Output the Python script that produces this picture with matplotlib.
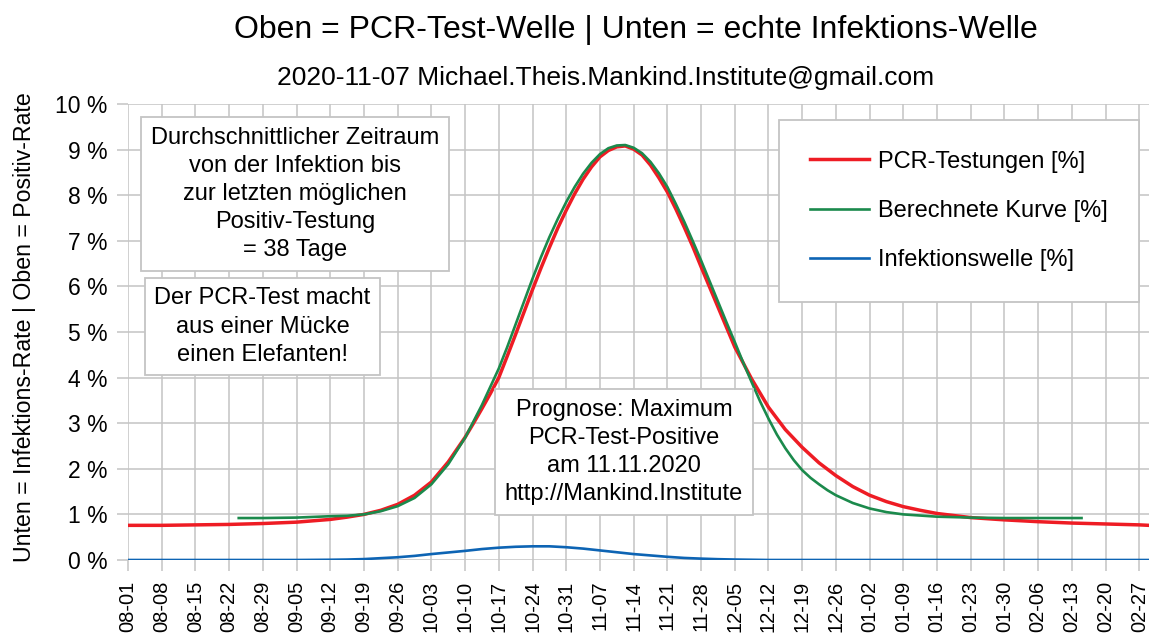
import datetime as dt
import matplotlib
matplotlib.use("Agg")
import matplotlib.pyplot as plt
import matplotlib.dates as mdates

plt.rcParams['font.family'] = ['Liberation Sans', 'DejaVu Sans']

start = dt.datetime(2020, 8, 1)

# red curve: PCR-Testungen [%] (day offset from 2020-08-01, value)
red_days = [0, 7, 14, 21, 28, 35, 42, 45.5, 49, 52.5, 56, 59.5, 63, 66.5, 70, 71.75, 73.5,
            75.25, 77, 78.75, 80.5, 82.25, 84, 85.75, 87.5, 89.25, 91, 92.75, 94.5, 96.25,
            98, 99.75, 101.5, 103.25, 105, 106.75, 108.5, 110.25, 112, 113.75, 115.5,
            117.25, 119, 120.75, 122.5, 124.25, 126, 129.5, 133, 136.5, 140, 143.5, 147,
            150.5, 154, 157.5, 161, 164.5, 168, 175, 182, 189, 196, 203, 210, 212]
red_vals = [0.76, 0.76, 0.77, 0.78, 0.80, 0.83, 0.89, 0.94, 1.00, 1.09, 1.22, 1.42, 1.71,
            2.15, 2.69, 3.00, 3.32, 3.65, 4.00, 4.47, 4.95, 5.44, 5.93, 6.40, 6.85, 7.28,
            7.67, 8.03, 8.35, 8.62, 8.84, 8.98, 9.06, 9.08, 9.01, 8.88, 8.66, 8.38, 8.07,
            7.70, 7.30, 6.88, 6.43, 5.99, 5.55, 5.11, 4.67, 3.97, 3.35, 2.86, 2.47, 2.13,
            1.85, 1.61, 1.42, 1.28, 1.17, 1.09, 1.02, 0.93, 0.88, 0.84, 0.81, 0.79, 0.77,
            0.76]

# green curve: Berechnete Kurve [%]
green_days = [23, 28, 35, 42, 45.5, 49, 52.5, 56, 59.5, 63, 66.5, 70, 73.5, 77, 78.75,
              80.5, 82.25, 84, 85.75, 87.5, 89.25, 91, 92.75, 94.5, 96.25, 98, 99.75,
              101.5, 103.25, 105, 106.75, 108.5, 110.25, 112, 113.75, 115.5, 117.25, 119,
              120.75, 122.5, 124.25, 126, 127.75, 129.5, 131.25, 133, 134.75, 136.5,
              138.25, 140, 141.75, 143.5, 145.25, 147, 150.5, 154, 157.5, 161, 168, 175,
              182, 189, 198]
green_vals = [0.92, 0.92, 0.93, 0.96, 0.97, 1.00, 1.07, 1.18, 1.36, 1.66, 2.10, 2.68,
              3.40, 4.20, 4.67, 5.17, 5.67, 6.17, 6.64, 7.08, 7.48, 7.85, 8.18, 8.47,
              8.71, 8.90, 9.03, 9.09, 9.10, 9.04, 8.92, 8.73, 8.48, 8.18, 7.81, 7.42,
              7.00, 6.57, 6.12, 5.67, 5.22, 4.78, 4.33, 3.90, 3.48, 3.10, 2.75, 2.45,
              2.19, 1.97, 1.80, 1.66, 1.53, 1.42, 1.25, 1.13, 1.05, 1.00, 0.95, 0.93,
              0.92, 0.92, 0.92]

# blue curve: Infektionswelle [%]
blue_days = [0, 35, 42, 45.5, 49, 52.5, 56, 59.5, 63, 66.5, 70, 73.5, 77, 80.5, 84, 87.5,
             91, 94.5, 98, 101.5, 105, 108.5, 112, 115.5, 119, 122.5, 126, 133, 212]
blue_vals = [0, 0, 0.005, 0.01, 0.02, 0.04, 0.06, 0.09, 0.13, 0.165, 0.20, 0.24, 0.27,
             0.29, 0.30, 0.30, 0.28, 0.25, 0.21, 0.17, 0.13, 0.10, 0.07, 0.045, 0.03,
             0.018, 0.01, 0, 0]

labels = ['PCR-Testungen [%]', 'Berechnete Kurve [%]', 'Infektionswelle [%]']
colors = ['#ee1c24', '#1b8a4c', '#0d64b4']


def to_dates(days):
    return [start + dt.timedelta(days=d) for d in days]


fig = plt.figure(figsize=(11.56, 6.36), dpi=100)
ax = fig.add_axes([0.1107, 0.1195, 0.8832, 0.717])

grid_col = '#c4c4c4'
ax.plot(to_dates(red_days), red_vals, color=colors[0], lw=2.5, label=labels[0], zorder=3)
ax.plot(to_dates(green_days), green_vals, color=colors[1], lw=1.9, label=labels[1], zorder=4)
ax.plot(to_dates(blue_days), blue_vals, color=colors[2], lw=1.9, label=labels[2], zorder=3)

ax.set_xlim(start, start + dt.timedelta(days=212))
ax.set_ylim(0, 10)
ax.set_yticks(range(0, 11))
ax.set_yticklabels([f"{v} %" for v in range(0, 11)], fontsize=16.5)

xticks = [start + dt.timedelta(days=7 * i) for i in range(31)]
ax.set_xticks(xticks)
ax.xaxis.set_major_formatter(mdates.DateFormatter('%m-%d'))
plt.setp(ax.get_xticklabels(), rotation=90, fontsize=14.5)

ax.grid(True, color=grid_col, lw=1.1)
ax.set_axisbelow(True)
for s in ax.spines.values():
    s.set_visible(False)
ax.tick_params(axis='both', color=grid_col, width=1.1, length=8, pad=7)

fig.text(0.021, 0.486, "Unten = Infektions-Rate | Oben = Positiv-Rate", rotation=90,
         ha='center', va='center', fontsize=16.7)

fig.text(0.55, 0.953, "Oben = PCR-Test-Welle | Unten = echte Infektions-Welle",
         ha='center', va='center', fontsize=23)
fig.text(0.524, 0.877, "2020-11-07 Michael.Theis.Mankind.Institute@gmail.com",
         ha='center', va='center', fontsize=19)

box = dict(boxstyle='square,pad=0.4', facecolor='white', edgecolor='#c4c4c4', lw=1.3)
ax.text(0.1636, 0.8026, "Durchschnittlicher Zeitraum\nvon der Infektion bis\n"
        "zur letzten möglichen\nPositiv-Testung\n= 38 Tage",
        transform=ax.transAxes, ha='center', va='center', fontsize=17,
        linespacing=1.36, bbox=box, zorder=5)
ax.text(0.1317, 0.512, "Der PCR-Test macht\naus einer Mücke\neinen Elefanten!",
        transform=ax.transAxes, ha='center', va='center', fontsize=17,
        linespacing=1.36, bbox=box, zorder=5)
ax.text(0.4858, 0.2368, "Prognose: Maximum\nPCR-Test-Positive\nam 11.11.2020\n"
        "http://Mankind.Institute",
        transform=ax.transAxes, ha='center', va='center', fontsize=17,
        linespacing=1.36, bbox=box, zorder=5)

leg = ax.legend(loc='upper right', bbox_to_anchor=(0.990, 0.965), fontsize=17,
                frameon=True, fancybox=False, framealpha=1, edgecolor='#c4c4c4',
                handlelength=2.5, handletextpad=0.4, labelspacing=1.16,
                borderpad=1.3, borderaxespad=0)
leg.get_frame().set_linewidth(1.3)
leg.set_zorder(6)

fig.savefig('out.png', dpi=100)
